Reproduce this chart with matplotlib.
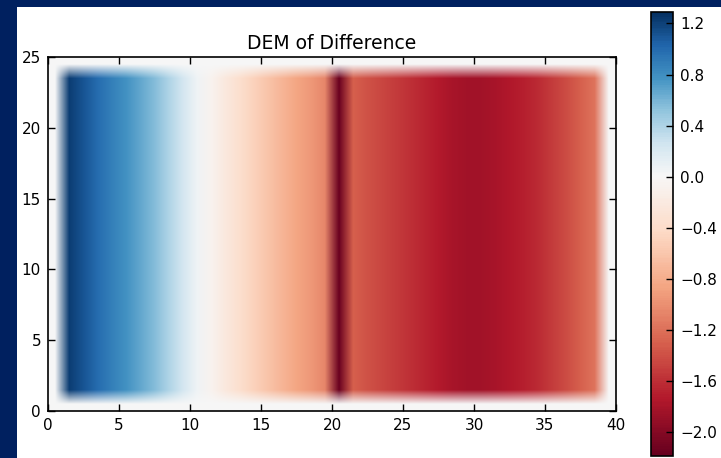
import numpy as np
import matplotlib
matplotlib.use('Agg')
import matplotlib.pyplot as plt
from matplotlib.colors import ListedColormap, Normalize
from matplotlib.patches import Rectangle

# Grid size of the difference raster (columns x rows), border cells are zero
n_cols = 40
n_rows = 25

# Elevation difference per column (columns 1..38), same on every row
diff_profile = [1.22, 1.10, 0.98, 0.88, 0.78, 0.67, 0.56, 0.40, 0.24, 0.06,
                -0.08, -0.22, -0.36, -0.50, -0.62, -0.74, -0.85, -0.95, -1.05, -2.15,
                -1.30, -1.38, -1.45, -1.52, -1.60, -1.67, -1.74, -1.80, -1.83, -1.83,
                -1.80, -1.75, -1.70, -1.62, -1.52, -1.42, -1.30, -1.18]

x_ticks = [0, 5, 10, 15, 20, 25, 30, 35, 40]
y_ticks = [0, 5, 10, 15, 20, 25]
cbar_ticks = [-2.0, -1.6, -1.2, -0.8, -0.4, 0.0, 0.4, 0.8, 1.2]
vmin, vmax = -2.19, 1.29

# Build the raster: zero border, profile repeated on inner rows
dod = np.zeros((n_rows, n_cols))
dod[1:n_rows - 1, 1:1 + len(diff_profile)] = diff_profile

# RdBu with white pinned at zero
n_neg = int(round(256 * -vmin / (vmax - vmin)))
n_pos = 256 - n_neg
cols = plt.cm.RdBu(np.concatenate([np.linspace(0, 0.5, n_neg, endpoint=False),
                                   np.linspace(0.5, 1, n_pos)]))
cmap = ListedColormap(cols)
norm = Normalize(vmin=vmin, vmax=vmax)

W, H = 721, 458
fig = plt.figure(figsize=(W / 100, H / 100), dpi=100)
fig.patch.set_facecolor('#00205f')
fig.add_artist(Rectangle((17 / W, 0), 1 - 17 / W, (H - 7) / H,
                         transform=fig.transFigure, facecolor='white',
                         edgecolor='none', zorder=-1))

ax = fig.add_axes([48 / W, (H - 411) / H, 568 / W, 354 / H])
im = ax.imshow(dod, cmap=cmap, norm=norm, origin='lower',
               extent=[0, n_cols, 0, n_rows], interpolation='bilinear',
               interpolation_stage='rgba', aspect='auto')
ax.set_xlim(0, 40)
ax.set_ylim(0, 25)
ax.set_xticks(x_ticks)
ax.set_yticks(y_ticks)
ax.tick_params(direction='in', length=5, width=1, top=True, right=True,
               labelsize=11, pad=5)
for s in ax.spines.values():
    s.set_linewidth(1.2)
ax.set_title('DEM of Difference', fontsize=13.5, pad=6)

cax = fig.add_axes([651 / W, (H - 456) / H, 22 / W, 444 / H])
cb = fig.colorbar(im, cax=cax, ticks=cbar_ticks)
cb.ax.tick_params(direction='in', length=5, width=1, labelsize=11, pad=5)
cb.outline.set_linewidth(1.2)
cb.ax.set_yticklabels([f'{t:.1f}'.replace('-', '\u2212') for t in cbar_ticks])

fig.savefig('out.png', dpi=100, facecolor=fig.get_facecolor())
